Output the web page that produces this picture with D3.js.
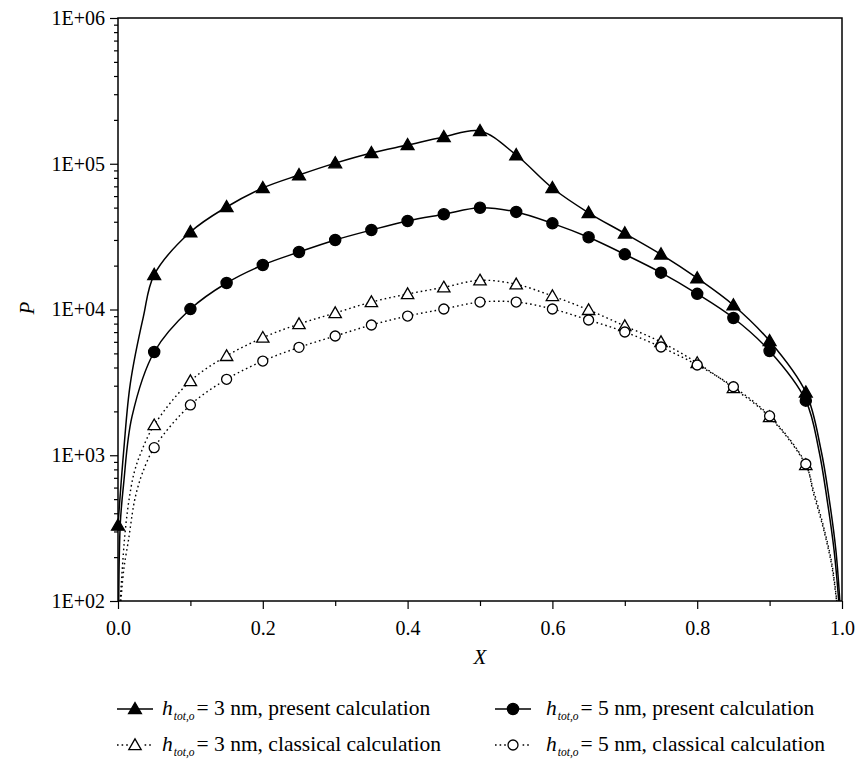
<!DOCTYPE html>
<html>
<head>
<meta charset="utf-8">
<script src="https://cdn.jsdelivr.net/npm/d3@7"></script>
<style>
  body { margin: 0; background: #fff; }
  text { font-family: "Liberation Serif", "DejaVu Serif", serif; fill: #000; }
</style>
</head>
<body>
<svg id="drawing_region"></svg>
<script>
// X positions of the markers
const markX = [0.05, 0.10, 0.15, 0.20, 0.25, 0.30, 0.35, 0.40, 0.45, 0.50,
               0.55, 0.60, 0.65, 0.70, 0.75, 0.80, 0.85, 0.90, 0.95];

// P values at the markers
const present3 = [17300, 34000, 50500, 68200, 83700, 101000, 118600, 134500, 152700, 168000,
                  114800, 68200, 46100, 33300, 23900, 16400, 10700, 6080, 2700];
const present5 = [5110, 10070, 15200, 20200, 24800, 30000, 35100, 40500, 45000, 49900,
                  46700, 39000, 31300, 23900, 17900, 12800, 8740, 5190, 2370];
const classical3 = [1610, 3230, 4800, 6410, 7950, 9460, 11250, 12770, 14200, 15860,
                    14900, 12380, 9930, 7710, 5980, 4300, 2890, 1830, 857];
const classical5 = [1127, 2213, 3320, 4430, 5500, 6580, 7830, 9020, 10080, 11250,
                    11250, 10080, 8470, 7010, 5530, 4160, 2950, 1860, 871];

// extra marker at X = 0 for the 3 nm present curve
const present3StartX = [0];
const present3StartP = [330];

// curve points near the edges (no markers)
const present3EdgeX = [0, 0.008, 0.017, 0.035, 0.971, 0.9825, 0.9915, 0.997];
const present3EdgeP = [330, 1090, 3100, 8900, 1087, 493, 224, 100];
const present5EdgeX = [0.001, 0.0032, 0.0079, 0.0193, 0.968, 0.9795, 0.989, 0.9955];
const present5EdgeP = [100, 343, 646, 1840, 1087, 493, 224, 100];
const classical3EdgeX = [0.003, 0.0074, 0.0106, 0.0152, 0.0221, 0.0313, 0.9605, 0.9745, 0.986, 0.9928];
const classical3EdgeP = [100, 212, 324, 493, 752, 1030, 578, 324, 181, 100];
const classical5EdgeX = [0.004, 0.008, 0.0152, 0.0198, 0.023, 0.0276, 0.0336, 0.960, 0.974, 0.9855, 0.9925];
const classical5EdgeP = [100, 165, 276, 400, 493, 608, 752, 560, 318, 178, 100];

const yMajor = [1e2, 1e3, 1e4, 1e5, 1e6];
const yLabels = ["1E+02", "1E+03", "1E+04", "1E+05", "1E+06"];
const xMajor = [0, 0.2, 0.4, 0.6, 0.8, 1.0];
const xMinor = [0.1, 0.3, 0.5, 0.7, 0.9];

const legendLabels = ["= 3 nm, present calculation", "= 5 nm, present calculation",
                      "= 3 nm, classical calculation", "= 5 nm, classical calculation"];

const width = 860, height = 768;
const margin = { top: 18, right: 18, bottom: 167, left: 118 };
const w = width - margin.left - margin.right;
const h = height - margin.top - margin.bottom;

const svg = d3.select('#drawing_region')
    .attr('width', width)
    .attr('height', height);

const chart = svg.append('g')
    .attr('transform', `translate(${margin.left}, ${margin.top})`);

const x = d3.scaleLinear().domain([0, 1]).range([0, w]);
const y = d3.scaleLog().domain([1e2, 1e6]).range([h, 0]);

chart.append('clipPath').attr('id', 'clip')
    .append('rect').attr('width', w).attr('height', h);

// axes
const yMinor = y.ticks().filter(v => !yMajor.includes(v));

chart.append('g')
    .attr('transform', `translate(0, ${h})`)
    .call(d3.axisBottom(x).tickValues(xMinor).tickSize(5).tickFormat(''))
    .call(g => g.select('.domain').remove());
chart.append('g')
    .attr('transform', `translate(0, ${h})`)
    .call(d3.axisBottom(x).tickValues(xMajor).tickSize(8).tickPadding(12).tickFormat(d3.format('.1f')))
    .call(g => g.select('.domain').remove())
    .selectAll('text')
    .style('font-size', '20px')
    .style('font-family', '"Liberation Serif", serif');

chart.append('g')
    .call(d3.axisLeft(y).tickValues(yMinor).tickSize(4).tickFormat(''))
    .call(g => g.select('.domain').remove());
chart.append('g')
    .call(d3.axisLeft(y).tickValues(yMajor).tickSize(8).tickPadding(5)
        .tickFormat((d, i) => yLabels[i]))
    .call(g => g.select('.domain').remove())
    .selectAll('text')
    .style('font-size', '20px')
    .style('font-family', '"Liberation Serif", serif');

chart.selectAll('.tick line').attr('stroke', '#000').attr('stroke-width', 1.2);

chart.append('rect')
    .attr('width', w).attr('height', h)
    .attr('fill', 'none').attr('stroke', '#000').attr('stroke-width', 1.5);

// axis titles
svg.append('text')
    .attr('x', margin.left + w / 2).attr('y', 664)
    .attr('text-anchor', 'middle')
    .style('font-size', '21px').style('font-style', 'italic')
    .text('X');
svg.append('text')
    .attr('transform', `translate(34, 308) rotate(-90)`)
    .attr('text-anchor', 'middle')
    .style('font-size', '21px').style('font-style', 'italic')
    .text('P');

// series
const series = [
    { mx: markX, mp: present3, ex: present3EdgeX, ep: present3EdgeP, sx: present3StartX, sp: present3StartP,
      dash: null, shape: 'triangle', fill: '#000' },
    { mx: markX, mp: present5, ex: present5EdgeX, ep: present5EdgeP, sx: [], sp: [],
      dash: null, shape: 'circle', fill: '#000' },
    { mx: markX, mp: classical3, ex: classical3EdgeX, ep: classical3EdgeP, sx: [], sp: [],
      dash: '1.6,3', shape: 'triangle', fill: '#fff' },
    { mx: markX, mp: classical5, ex: classical5EdgeX, ep: classical5EdgeP, sx: [], sp: [],
      dash: '1.6,3', shape: 'circle', fill: '#fff' }
];

const line = d3.line()
    .x(d => x(d[0]))
    .y(d => y(d[1]))
    .curve(d3.curveCatmullRom.alpha(0.5));

const triPath = d3.symbol().type(d3.symbolTriangle).size(72)();
const triSmall = d3.symbol().type(d3.symbolTriangle).size(66)();

function drawMarker(g, shape, fill, cx, cy) {
    if (shape === 'triangle') {
        g.append('path')
            .attr('d', fill === '#000' ? triPath : triSmall)
            .attr('transform', `translate(${cx}, ${cy + 1})`)
            .attr('fill', fill)
            .attr('stroke', '#000')
            .attr('stroke-width', 1.3);
    } else {
        g.append('circle')
            .attr('cx', cx).attr('cy', cy)
            .attr('r', fill === '#000' ? 5.6 : 5)
            .attr('fill', fill)
            .attr('stroke', '#000')
            .attr('stroke-width', 1.3);
    }
}

const lineLayer = chart.append('g').attr('clip-path', 'url(#clip)');
const markLayer = chart.append('g');

series.forEach(s => {
    const pts = s.mx.map((v, i) => [v, s.mp[i]])
        .concat(s.ex.map((v, i) => [v, s.ep[i]]))
        .sort((a, b) => a[0] - b[0]);
    const p = lineLayer.append('path')
        .attr('d', line(pts))
        .attr('fill', 'none')
        .attr('stroke', '#000')
        .attr('stroke-width', s.dash ? 1.4 : 1.5);
    if (s.dash) p.attr('stroke-dasharray', s.dash);
});

series.forEach(s => {
    s.mx.forEach((v, i) => drawMarker(markLayer, s.shape, s.fill, x(v), y(s.mp[i])));
    s.sx.forEach((v, i) => drawMarker(markLayer, s.shape, s.fill, x(v), y(s.sp[i])));
});

// legend
const legendPos = [[117, 709], [495, 709], [117, 745], [495, 745]];
series.forEach((s, i) => {
    const [lx, ly] = legendPos[i];
    const g = svg.append('g');
    const l = g.append('line')
        .attr('x1', lx).attr('x2', lx + 36)
        .attr('y1', ly).attr('y2', ly)
        .attr('stroke', '#000').attr('stroke-width', s.dash ? 1.4 : 1.5);
    if (s.dash) l.attr('stroke-dasharray', s.dash);
    if (s.dash) {
        g.append('rect').attr('x', lx + 11).attr('y', ly - 7).attr('width', 14).attr('height', 14).attr('fill', '#fff');
    }
    drawMarker(g, s.shape, s.fill, lx + 18, ly);
    const t = g.append('text')
        .attr('x', lx + (i % 2 === 0 ? 45 : 51)).attr('y', ly + 6)
        .style('font-size', '21.5px');
    t.append('tspan').style('font-style', 'italic').text('h');
    t.append('tspan').style('font-style', 'italic').style('font-size', '11.5px')
        .attr('dy', 5).attr('dx', 1).text('tot,o');
    t.append('tspan').attr('dy', -5).attr('dx', 2).text(legendLabels[i]);
});
</script>
</body>
</html>
